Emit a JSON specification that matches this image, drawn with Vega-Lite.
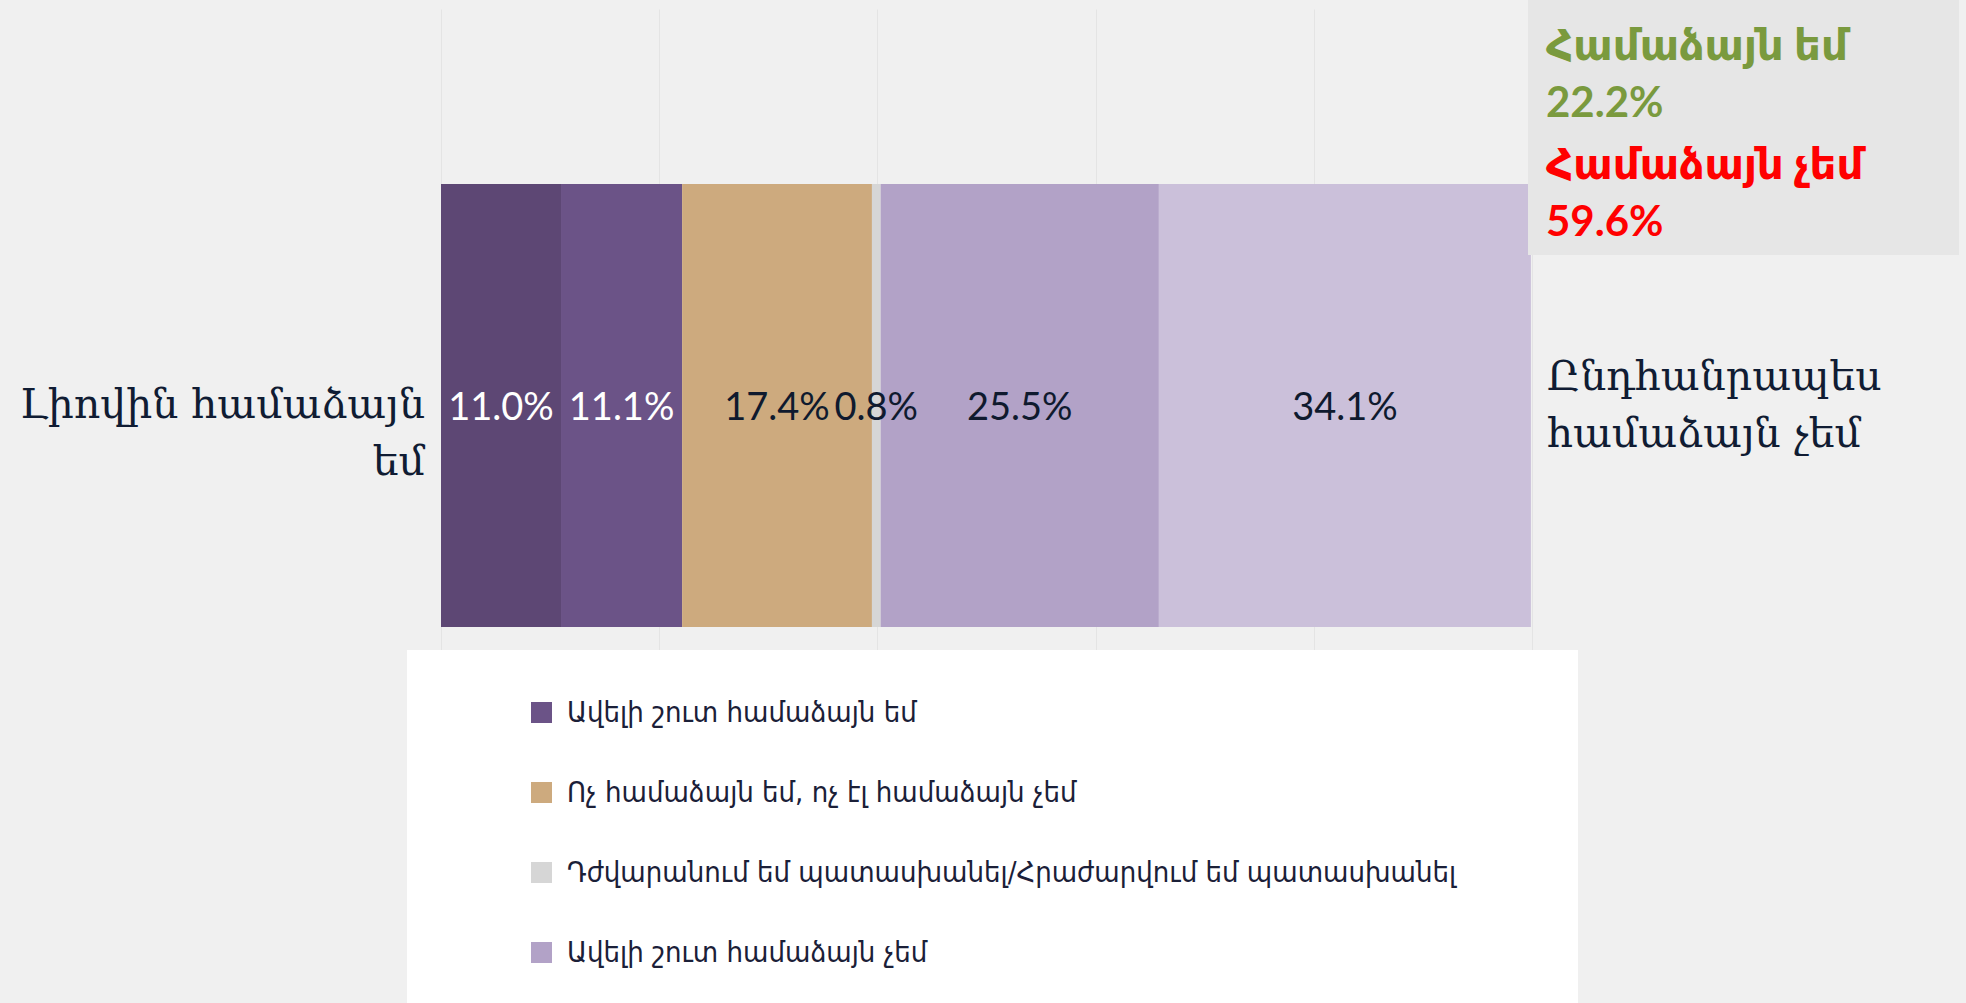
{
  "$schema": "https://vega.github.io/schema/vega-lite/v6.json",
  "width": 1091,
  "height": 641,
  "autosize": {"type": "none"},
  "padding": {"left": 441, "top": 9, "right": 434, "bottom": 353},
  "background": "#f0f0f0",
  "config": {"view": {"stroke": null}, "font": "Lato", "style": {"guide-label": {"lineHeight": 57}}},
  "data": {
    "values": [
      {"g": "1", "i": 0, "cat": "Լիովին համաձայն\nեմ", "share": 0.110},
      {"g": "1", "i": 1, "cat": "Ավելի շուտ համաձայն եմ", "share": 0.111},
      {"g": "1", "i": 2, "cat": "Ոչ համաձայն եմ, ոչ էլ համաձայն չեմ", "share": 0.174},
      {"g": "1", "i": 3, "cat": "Դժվարանում եմ պատասխանել/Հրաժարվում եմ պատասխանել", "share": 0.008},
      {"g": "1", "i": 4, "cat": "Ավելի շուտ համաձայն չեմ", "share": 0.255},
      {"g": "1", "i": 5, "cat": "Ընդհանրապես\nհամաձայն չեմ", "share": 0.341}
    ]
  },
  "transform": [
    {"stack": "share", "groupby": ["g"], "sort": [{"field": "i", "order": "ascending"}], "as": ["x0", "x1"]}
  ],
  "encoding": {
    "y": {"field": "g", "type": "nominal", "axis": null, "scale": {"paddingInner": 0, "paddingOuter": 0.2235, "align": 0.884}}
  },
  "layer": [
    {
      "mark": {"type": "bar"},
      "encoding": {
        "x": {"field": "x0", "type": "quantitative", "scale": {"domain": [0, 1], "nice": false},
          "axis": {"title": null, "values": [0, 0.2, 0.4, 0.6, 0.8, 1], "labels": false, "ticks": false, "domain": false, "grid": true, "gridColor": "#e4e4e4", "gridWidth": 1}},
        "x2": {"field": "x1"},
        "color": {
          "field": "cat", "type": "nominal",
          "scale": {
            "domain": ["Լիովին համաձայն\nեմ", "Ավելի շուտ համաձայն եմ", "Ոչ համաձայն եմ, ոչ էլ համաձայն չեմ", "Դժվարանում եմ պատասխանել/Հրաժարվում եմ պատասխանել", "Ավելի շուտ համաձայն չեմ", "Ընդհանրապես\nհամաձայն չեմ"],
            "range": ["#5d4774", "#6b5387", "#cdaa7e", "#d6d6d6", "#b2a2c7", "#cbc0da"]
          },
          "legend": {
            "values": ["Ավելի շուտ համաձայն եմ", "Ոչ համաձայն եմ, ոչ էլ համաձայն չեմ", "Դժվարանում եմ պատասխանել/Հրաժարվում եմ պատասխանել", "Ավելի շուտ համաձայն չեմ"],
            "orient": "none",
            "legendX": -34,
            "legendY": 641,
            "title": " ",
            "titleOrient": "right",
            "titleFontSize": 1,
            "titlePadding": 74,
            "direction": "vertical",
            "fillColor": "white",
            "padding": 48,
            "symbolType": "square",
            "symbolSize": 441,
            "symbolStrokeWidth": 0,
            "symbolOffset": 72,
            "labelFont": "DejaVu Sans Condensed",
            "labelFontSize": 29,
            "labelColor": "#1b2038",
            "labelOffset": 11,
            "labelLimit": 3000,
            "rowPadding": 50
          }
        }
      }
    },
    {
      "transform": [
        {"fold": ["x0", "x1"], "as": ["edge", "pos"]},
        {"aggregate": [{"op": "mean", "field": "pos", "as": "mid"}], "groupby": ["g", "i", "share"]}
      ],
      "mark": {"type": "text", "font": "Lato", "fontSize": 38, "baseline": "middle", "dy": 3},
      "encoding": {
        "x": {"field": "mid", "type": "quantitative", "scale": {"domain": [0, 1], "nice": false}, "axis": {"title": null, "values": [0, 0.2, 0.4, 0.6, 0.8, 1], "labels": false, "ticks": false, "domain": false, "grid": true, "gridColor": "#e4e4e4", "gridWidth": 1}},
        "text": {"field": "share", "type": "quantitative", "format": ".1%"},
        "color": {"condition": {"test": "datum.i < 2", "value": "#ffffff"}, "value": "#0f1a2e"}
      }
    },
    {
      "transform": [{"filter": "datum.i == 0"}],
      "mark": {"type": "text", "align": "right", "baseline": "alphabetic", "dx": -16, "dy": 12.5, "font": "DejaVu Serif", "fontSize": 41, "lineBreak": "\n", "lineHeight": 57, "color": "#101c33"},
      "encoding": {
        "x": {"field": "x0", "type": "quantitative", "scale": {"domain": [0, 1], "nice": false}, "axis": {"title": null, "values": [0, 0.2, 0.4, 0.6, 0.8, 1], "labels": false, "ticks": false, "domain": false, "grid": true, "gridColor": "#e4e4e4", "gridWidth": 1}},
        "text": {"field": "cat", "type": "nominal"}
      }
    },
    {
      "transform": [{"filter": "datum.i == 5"}],
      "mark": {"type": "text", "align": "left", "baseline": "alphabetic", "dx": 16, "dy": -15.5, "font": "DejaVu Serif", "fontSize": 41, "lineBreak": "\n", "lineHeight": 57, "color": "#101c33"},
      "encoding": {
        "x": {"field": "x1", "type": "quantitative", "scale": {"domain": [0, 1], "nice": false}, "axis": {"title": null, "values": [0, 0.2, 0.4, 0.6, 0.8, 1], "labels": false, "ticks": false, "domain": false, "grid": true, "gridColor": "#e4e4e4", "gridWidth": 1}},
        "text": {"field": "cat", "type": "nominal"}
      }
    },
    {
      "data": {
        "values": [
          {"note": "Համաձայն եմ|22.2%"},
          {"note": "Համաձայն չեմ|59.6%"}
        ]
      },
      "mark": {"type": "point", "opacity": 0},
      "encoding": {
        "y": {"value": 0},
        "shape": {
          "field": "note", "type": "nominal",
          "legend": {
            "orient": "none",
            "legendX": 1087,
            "legendY": -14,
            "title": " ",
            "titleOrient": "right",
            "titleFontSize": 1,
            "titlePadding": 85,
            "direction": "vertical",
            "fillColor": "#e6e6e6",
            "padding": 11,
            "symbolSize": 0,
            "symbolOpacity": 0,
            "symbolStrokeWidth": 0,
            "symbolOffset": 0,
            "labelOffset": -35,
            "labelFont": "Lato, DejaVu Sans",
            "labelFontSize": 42,
            "labelFontWeight": "bold",
            "labelBaseline": "top",
            "labelLimit": 3000,
            "rowPadding": -2,
            "labelExpr": "split(datum.label, '|')",
            "labelColor": {"expr": "indexof(datum.value, 'չեմ') >= 0 ? '#ff0000' : '#7a9a3e'"}
          }
        }
      }
    }
  ]
}
